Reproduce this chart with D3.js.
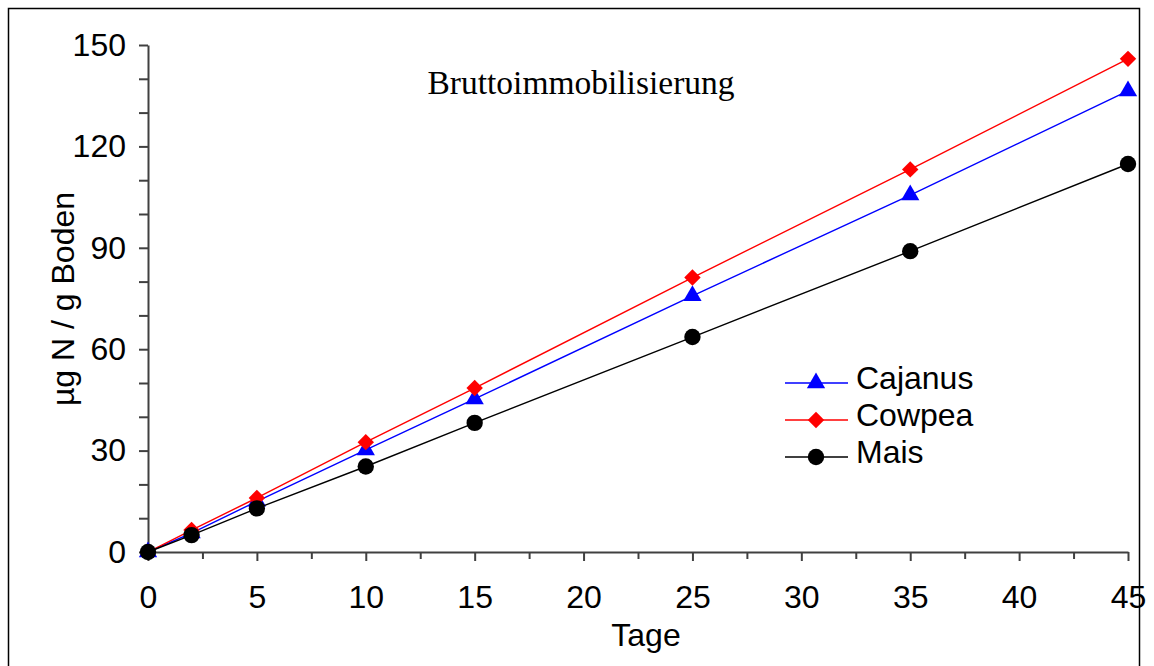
<!DOCTYPE html>
<html>
<head>
<meta charset="utf-8">
<script src="https://cdn.jsdelivr.net/npm/d3@7"></script>
<style>
  body { margin: 0; background: #fff; }
  svg { display: block; font-family: "Liberation Sans", Arial, sans-serif; }
  .axis path, .axis line { stroke: #404040; stroke-width: 2; }
  .axis text { font-size: 32px; fill: #000; font-family: "Liberation Sans", Arial, sans-serif; }
</style>
</head>
<body>
<svg id="chart" width="1154" height="666"></svg>
<script>
// days of incubation
var days = [0, 2, 5, 10, 15, 25, 35, 45];
// gross immobilisation, µg N / g soil
var cajanus = [0, 5.6, 15, 30.2, 45.3, 75.8, 105.6, 136.4];
var cowpea = [0, 6.5, 16, 32.5, 48.5, 81.2, 113.2, 145.9];
var mais = [0, 5, 12.9, 25.3, 38.2, 63.6, 89, 114.8];

var xTicks = [0, 5, 10, 15, 20, 25, 30, 35, 40, 45];
var xMinor = [2.5, 7.5, 12.5, 17.5, 22.5, 27.5, 32.5, 37.5, 42.5];
var yTicks = [0, 30, 60, 90, 120, 150];
var yMinor = [10, 20, 40, 50, 70, 80, 100, 110, 130, 140];

var series = [
    { name: "Cajanus", values: cajanus, color: "#0000ff", symbol: "triangle" },
    { name: "Cowpea", values: cowpea, color: "#ff0000", symbol: "diamond" },
    { name: "Mais", values: mais, color: "#000000", symbol: "circle" }
];

var svg = d3.select("#chart");

var x = d3.scaleLinear().domain([0, 45]).range([148, 1128]),
    y = d3.scaleLinear().domain([0, 150]).range([552, 45]);

// outer frame (bottom edge runs off the picture)
svg.append("rect")
    .attr("x", 8.5).attr("y", 8.5)
    .attr("width", 1131).attr("height", 720)
    .attr("fill", "none")
    .attr("stroke", "#000")
    .attr("stroke-width", 1.5);

// minor ticks first, the major axis draws the domain line
svg.append("g")
    .attr("class", "axis")
    .attr("transform", "translate(0," + y(0) + ")")
    .call(d3.axisBottom(x).tickValues(xMinor).tickSize(7).tickSizeOuter(0).tickFormat(""))
    .select(".domain").remove();

svg.append("g")
    .attr("class", "axis")
    .attr("transform", "translate(0," + y(0) + ")")
    .call(d3.axisBottom(x).tickValues(xTicks).tickSize(9).tickSizeOuter(0).tickPadding(24));

svg.append("g")
    .attr("class", "axis")
    .attr("transform", "translate(" + x(0) + ",0)")
    .call(d3.axisLeft(y).tickValues(yMinor).tickSize(9).tickSizeOuter(0).tickFormat(""))
    .select(".domain").remove();

svg.append("g")
    .attr("class", "axis")
    .attr("transform", "translate(" + x(0) + ",0)")
    .call(d3.axisLeft(y).tickValues(yTicks).tickSize(9).tickSizeOuter(0).tickPadding(13));

// axis titles
svg.append("text")
    .attr("x", 646).attr("y", 646)
    .attr("text-anchor", "middle")
    .style("font-size", "32px")
    .text("Tage");

svg.append("text")
    .attr("transform", "translate(74,299) rotate(-90)")
    .attr("text-anchor", "middle")
    .style("font-size", "32px")
    .text("µg N / g Boden");

svg.append("text")
    .attr("x", 581).attr("y", 94)
    .attr("text-anchor", "middle")
    .style("font-family", "'Liberation Serif', 'Times New Roman', serif")
    .style("font-size", "33.5px")
    .text("Bruttoimmobilisierung");

function symbolPath(kind) {
    if (kind === "triangle") return d3.symbol().type(d3.symbolTriangle).size(145)();
    if (kind === "diamond") return d3.symbol().type(d3.symbolSquare).size(135)();
    return d3.symbol().type(d3.symbolCircle).size(210)();
}

var line = d3.line()
    .x(function(d, i) { return x(days[i]); })
    .y(function(d) { return y(d); });

series.forEach(function(s) {
    var g = svg.append("g");
    g.append("path")
        .attr("d", line(s.values))
        .attr("fill", "none")
        .attr("stroke", s.color)
        .attr("stroke-width", 1.4);
    g.selectAll("path.pt")
        .data(s.values)
        .enter().append("path")
        .attr("class", "pt")
        .attr("d", symbolPath(s.symbol))
        .attr("fill", s.color)
        .attr("transform", function(d, i) {
            return "translate(" + x(days[i]) + "," + y(d) + ")" + (s.symbol === "diamond" ? " rotate(45)" : "");
        });
});

// legend
var legend = svg.append("g").attr("transform", "translate(785,383)");
series.forEach(function(s, i) {
    var row = legend.append("g").attr("transform", "translate(0," + (i * 37) + ")");
    row.append("line")
        .attr("x1", 0).attr("x2", 63)
        .attr("stroke", s.color).attr("stroke-width", 1.4);
    row.append("path")
        .attr("d", symbolPath(s.symbol))
        .attr("fill", s.color)
        .attr("transform", "translate(31,0)" + (s.symbol === "diamond" ? " rotate(45)" : ""));
    row.append("text")
        .attr("x", 71).attr("y", 6)
        .style("font-size", "32px")
        .text(s.name);
});
</script>
</body>
</html>
